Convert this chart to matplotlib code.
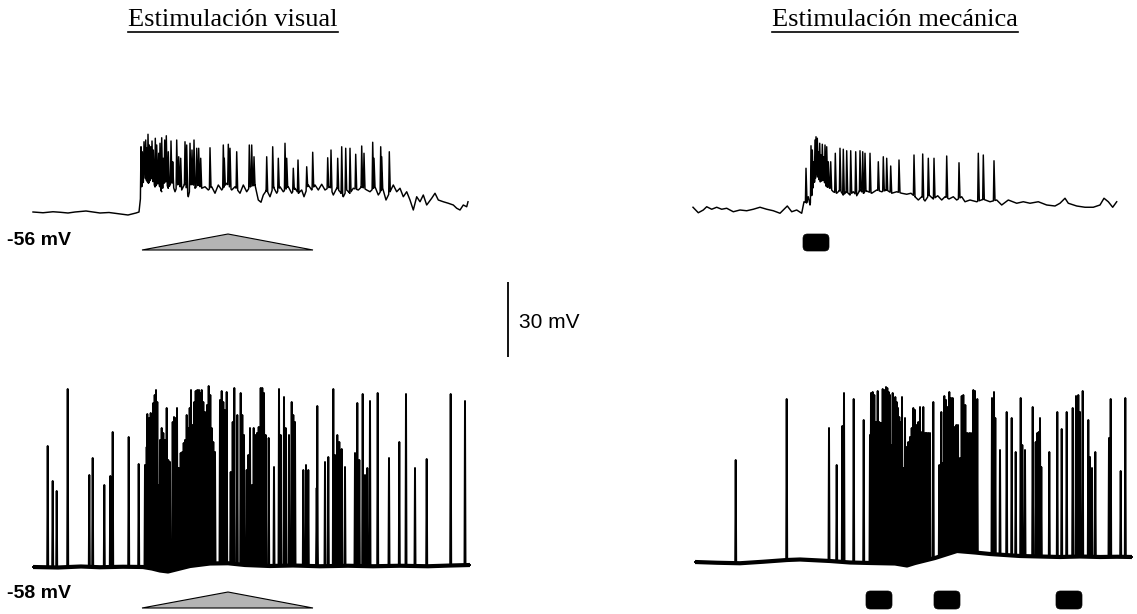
import numpy as np
import matplotlib
matplotlib.use("Agg")
import matplotlib.pyplot as plt
from matplotlib.patches import Polygon, FancyBboxPatch
from matplotlib.lines import Line2D

# ------------------------------------------------------------------
# Recordings (time in s, membrane potential in mV)
# ------------------------------------------------------------------
titles = ["Estimulación visual", "Estimulación mecánica"]
rest_labels = ["-56 mV", "-58 mV"]
scale_mv = 30
scale_label = "30 mV"

# Cell 1, visual stimulus: membrane baseline and spike peaks
vis1_base_t = [0.0, 1.0, 2.0, 2.7, 3.5, 4.2, 5.3, 6.7, 7.6, 8.7, 9.5, 10.3, 10.6,
               10.87, 11.2, 11.53, 11.87, 12.2, 12.53, 12.87, 13.2, 13.53, 13.87,
               14.2, 14.53, 14.87, 15.2, 15.53, 15.87, 16.2, 16.53, 16.87, 17.2,
               17.53, 17.87, 18.2, 18.53, 18.87, 19.37, 19.87, 20.2, 20.7, 21.03,
               21.37, 21.7, 22.2, 22.53, 22.8, 23.03, 23.37, 23.7, 24.03, 24.37,
               24.7, 25.03, 25.53, 25.87, 26.2, 26.53, 26.87, 27.1, 27.53, 27.87,
               28.2, 28.53, 28.87, 29.2, 29.7, 30.03, 30.37, 30.7, 31.03, 31.37,
               31.7, 32.03, 32.53, 32.87, 33.37, 33.7, 34.2, 34.53, 34.97, 35.3,
               35.7, 36.03, 36.37, 36.7, 37.03, 37.37, 37.7, 38.03, 38.37, 38.7,
               39.03, 39.37, 39.87, 40.2, 40.53, 41.03, 41.53, 42.03, 42.37, 42.7,
               43.03, 43.37, 43.5]
vis1_base_mv = [-56.0, -56.3, -55.9, -56.1, -56.4, -56.0, -55.6, -56.4, -56.2, -56.8,
                -57.2, -56.4, -56.0,
                -45.9, -42.4, -44.5, -42.5, -45.9, -44.5, -47.9, -43.2, -46.5, -43.9,
                -47.9, -44.5, -47.2, -44.5, -49.9, -43.9, -46.5, -45.2, -46.5, -45.9,
                -47.2, -45.9, -48.5, -45.2, -47.2, -44.5, -47.2, -45.9, -48.5, -45.2,
                -47.9, -45.9, -45.2, -51.2, -52.1, -49.2, -47.2, -49.9, -45.9, -48.5,
                -45.9, -47.9, -45.9, -48.5, -46.5, -48.5, -47.2, -49.9, -45.2, -47.2,
                -45.2, -47.2, -44.9, -47.2, -45.9, -49.2, -46.5, -47.9, -49.9, -47.2,
                -48.5, -46.5, -47.2, -45.9, -47.2, -47.9, -45.9, -49.2, -46.5, -51.2,
                -47.9, -45.2, -47.9, -46.5, -49.9, -47.9, -51.2, -55.2, -49.9, -51.9,
                -49.2, -53.2, -50.5, -48.5, -51.2, -51.9, -52.5, -53.2, -54.5, -55.2,
                -53.2, -53.9, -51.9]
vis1_spk_t = [10.8, 10.93, 11.1, 11.27, 11.37, 11.5, 11.63, 11.77, 11.9, 12.03,
              12.23, 12.37, 12.57, 12.7, 12.87, 13.03, 13.17, 13.33, 13.53, 13.8,
              13.97, 14.37, 14.57, 14.77, 15.2, 15.37, 15.7, 15.9, 16.1, 16.37,
              16.57, 16.77, 17.7, 19.03, 19.13, 19.53, 19.7, 20.37, 21.63, 21.87,
              22.1, 23.37, 23.97, 24.53, 25.2, 25.37, 26.03, 26.5, 27.37, 27.97,
              29.47, 29.8, 30.47, 30.87, 31.27, 31.7, 32.27, 32.87, 33.1, 33.97,
              34.1, 34.77, 34.87, 35.63]
vis1_spk_mv = [-29.9, -31.9, -27.9, -27.2, -30.4, -24.9, -29.2, -29.9, -27.6, -31.2,
               -26.5, -29.2, -32.5, -28.5, -26.3, -34.5, -27.2, -25.5, -31.9, -27.6,
               -35.9, -27.2, -33.9, -34.5, -27.9, -29.2, -28.5, -31.2, -27.2, -30.5,
               -30.5, -34.5, -30.3, -29.2, -34.5, -28.9, -30.5, -31.9, -29.2, -29.2,
               -33.9, -33.9, -29.9, -34.5, -28.5, -34.5, -38.5, -35.2, -37.9, -32.1,
               -34.3, -31.2, -34.5, -29.9, -30.5, -30.5, -32.9, -29.6, -32.5, -28.1,
               -34.5, -29.9, -33.9, -31.9]
vis1_stim = [10.9, 19.5, 28.0]          # ramp onset, peak, offset (s)

# Cell 1, mechanical stimulus
mec1_base_t = [0.0, 0.53, 1.03, 1.37, 1.87, 2.37, 2.87, 3.37, 4.03, 4.7, 5.37, 6.03,
               6.7, 7.37, 8.03, 8.7, 9.43, 9.87, 10.37, 10.87, 11.1, 11.35, 11.53,
               11.7, 12.03, 12.37, 12.7, 13.03, 13.37, 13.7, 14.03, 14.37, 14.7,
               15.03, 15.37, 15.7, 16.03, 16.37, 16.7, 17.03, 17.37, 17.87, 18.37,
               18.87, 19.37, 19.87, 20.37, 20.87, 21.37, 21.8, 22.2, 22.53, 22.87,
               23.2, 23.6, 24.03, 24.47, 24.87, 25.2, 25.6, 26.03, 26.37, 26.87,
               27.2, 27.7, 28.37, 29.03, 29.7, 30.37, 30.87, 31.53, 32.37, 33.03,
               33.7, 34.53, 35.37, 36.2, 36.7, 37.2, 37.53, 38.37, 39.2, 40.03,
               40.7, 41.1, 41.53, 41.97, 42.37]
mec1_base_mv = [-55.3, -57.5, -56.4, -55.1, -56.1, -55.3, -56.1, -55.7, -57.1, -56.4,
                -56.7, -56.1, -55.3, -56.1, -56.7, -57.7, -54.8, -57.1, -56.4, -57.7,
                -53.1, -53.6, -51.1, -54.4, -47.1, -41.7, -45.1, -44.4, -47.1, -47.7,
                -49.1, -49.7, -48.4, -50.4, -49.1, -50.4, -49.1, -50.7, -48.4, -49.7,
                -48.8, -49.7, -48.4, -49.1, -48.4, -49.7, -49.1, -49.7, -50.1, -49.7,
                -51.1, -52.4, -51.1, -52.8, -50.4, -52.0, -50.7, -52.4, -51.1, -52.0,
                -51.1, -52.4, -51.1, -53.1, -52.4, -53.1, -52.1, -53.1, -52.4, -54.4,
                -52.4, -53.7, -53.1, -53.7, -53.1, -54.4, -54.8, -53.7, -51.7, -53.7,
                -54.8, -55.3, -55.3, -54.4, -51.7, -53.1, -55.3, -53.1]
mec1_spk_t = [11.3, 11.8, 11.93, 12.07, 12.2, 12.3, 12.43, 12.53, 12.67, 12.8,
              12.93, 13.07, 13.2, 13.37, 13.53, 13.77, 14.23, 14.7, 15.03, 15.37,
              15.77, 16.27, 16.7, 16.97, 17.2, 17.7, 18.53, 19.03, 19.37, 19.77,
              20.6, 22.1, 22.97, 23.53, 24.1, 25.37, 26.6, 28.53, 29.03, 30.1]
mec1_spk_mv = [-39.7, -30.7, -32.4, -37.1, -28.4, -27.1, -27.7, -33.1, -29.7, -34.4,
               -30.1, -35.1, -30.4, -31.1, -37.1, -37.1, -33.7, -31.7, -32.1, -32.7,
               -32.7, -33.1, -32.7, -33.1, -33.7, -33.7, -37.1, -35.1, -35.7, -38.8,
               -36.4, -34.4, -34.0, -35.7, -35.7, -34.8, -37.5, -33.7, -34.4, -36.7]
mec1_stim_on = [11.0]                   # puff onsets (s)
mec1_stim_dur = [2.6]                   # puff durations (s)

# Cell 2, visual stimulus
vis2_base_t = [0.0, 2.5, 4.8, 6.7, 9.0, 11.0, 11.9, 12.7, 13.5, 14.3, 15.7, 17.7,
               19.5, 21.2, 23.7, 26.0, 28.7, 31.5, 34.0, 36.7, 39.5, 41.8, 43.7]
vis2_base_mv = [-58.0, -58.2, -57.8, -58.1, -57.9, -58.0, -58.6, -59.4, -59.8, -59.0,
                -57.6, -56.6, -56.5, -57.2, -57.6, -57.4, -57.7, -57.5, -57.7, -57.5,
                -57.7, -57.4, -57.2]
vis2_spk_t = [1.47, 1.97, 2.37, 3.47, 5.63, 5.97, 7.13, 7.73, 7.97, 9.57, 10.57,
              11.2, 11.37, 11.43, 11.63, 11.77, 11.9, 12.03, 12.17, 12.3, 12.43,
              12.57, 12.7, 12.87, 13.03, 13.2, 13.37, 13.53, 13.7, 13.97, 14.1,
              14.27, 14.4, 14.57, 14.77, 14.93, 15.07, 15.2, 15.37, 15.53, 15.67,
              15.8, 15.97, 16.13, 16.27, 16.43, 16.6, 16.73, 16.87, 17.03, 17.2,
              17.4, 17.57, 17.73, 17.87, 18.03, 18.2, 18.7, 18.87, 19.03, 19.17,
              19.37, 19.77, 19.97, 20.13, 20.43, 20.77, 20.93, 21.1, 21.37, 21.53,
              21.7, 21.9, 22.07, 22.23, 22.4, 22.57, 22.77, 22.93, 23.1, 23.27,
              23.57, 24.1, 24.6, 24.77, 25.1, 25.27, 25.6, 25.87, 26.03, 26.2,
              27.03, 27.3, 27.53, 28.37, 28.43, 29.2, 29.53, 30.03, 30.2, 30.43,
              30.63, 30.87, 31.2, 32.2, 32.43, 32.63, 32.97, 33.2, 33.43, 33.7,
              34.47, 35.6, 36.63, 37.3, 38.2, 39.37, 41.77, 43.2]
vis2_spk_mv = [-9.6, -23.6, -27.6, 13.2, -21.2, -14.4, -25.2, -21.6, -4.0, -6.0, -16.8,
               -17.2, -10.0, 3.2, 1.6, 3.6, 0.0, 7.6, 10.8, 12.8, 8.0,
               -25.2, -7.2, -2.4, -4.4, -7.2, 5.6, -15.2, -16.0, 0.0, 2.0,
               1.6, 5.6, -18.4, -12.4, -12.0, -8.4, -7.2, 2.8, -2.4, 5.6,
               12.8, -1.2, 8.0, 12.4, 12.8, 12.8, 11.6, 12.8, 8.0, 4.0,
               6.8, 14.4, 10.8, -2.4, -8.0, -12.0, 8.8, 12.4, 8.0, 4.8,
               12.0, -20.0, 0.0, 13.6, 2.8, 11.6, 2.8, -5.2, -19.2, -13.2,
               -2.4, -25.2, -2.4, -5.2, -4.4, -2.0, 13.6, 13.6, 11.6, -5.2,
               -6.4, -18.0, 13.2, -5.2, 10.0, -2.4, -5.2, 8.0, 2.8, 0.0,
               -19.2, -17.2, -19.2, -26.4, 6.4, -16.0, -14.0, 13.2, -13.2, -5.2,
               -8.0, -10.8, -18.0, -12.4, 7.6, -15.2, 11.2, -21.2, -18.4, 8.4,
               11.6, -14.4, -8.0, 11.2, -18.4, -14.8, 11.2, 8.4]
vis2_stim = [10.9, 19.5, 28.0]

# Cell 2, mechanical stimulus
mec2_base_t = [0.0, 2.2, 4.5, 6.8, 9.2, 10.5, 13.5, 15.5, 17.5, 20.0, 21.2, 22.0,
               24.0, 26.2, 28.0, 29.5, 32.5, 34.5, 36.5, 38.5, 40.5, 42.2, 43.7]
mec2_base_mv = [-58.0, -58.3, -58.5, -57.9, -57.2, -57.0, -57.6, -58.2, -58.4, -58.6,
                -59.4, -58.4, -56.4, -53.6, -54.2, -54.8, -55.6, -55.8, -56.0, -55.8,
                -56.0, -55.9, -56.0]
mec2_spk_t = [4.07, 9.17, 13.4, 14.17, 14.73, 14.9, 15.87, 16.87, 17.5, 17.6, 17.77,
              17.93, 18.1, 18.27, 18.43, 18.6, 18.77, 18.93, 19.1, 19.23, 19.37,
              19.5, 19.63, 19.77, 19.9, 20.03, 20.17, 20.3, 20.43, 20.57, 20.7,
              20.83, 21.0, 21.17, 21.33, 21.5, 21.67, 21.83, 22.0, 22.17, 22.33,
              22.5, 22.7, 22.83, 23.03, 23.17, 23.33, 23.5, 23.83, 24.43, 24.63,
              24.77, 24.93, 25.1, 25.27, 25.43, 25.6, 25.77, 25.97, 26.13, 26.3,
              26.5, 26.67, 26.83, 27.03, 27.23, 27.43, 27.6, 27.83, 28.0, 28.23,
              29.7, 29.9, 30.03, 30.5, 31.17, 31.67, 32.07, 32.57, 32.73, 33.0,
              33.77, 34.07, 34.23, 34.37, 34.5, 34.63, 35.43, 36.23, 36.67, 37.17,
              37.77, 38.1, 38.33, 38.5, 38.77, 39.33, 39.5, 39.7, 40.03, 41.4,
              41.57, 42.57, 43.03]
mec2_spk_mv = [-17.2, 7.2, -4.4, -19.2, -3.6, 9.6, 7.2, -1.2, -7.2, 9.6, 10.0,
               8.8, -2.0, 10.4, -2.0, -2.4, 11.2, 10.8, 12.0, 11.6, 10.0,
               8.8, -11.2, 9.6, 7.6, 8.0, 6.0, 3.6, 0.0, -2.0, 8.0,
               -20.4, -0.4, -12.0, -10.0, -8.0, -4.4, 3.6, 2.8, -3.2, -2.0,
               4.0, -6.0, 4.0, -6.4, -6.4, -6.4, -6.4, 6.0, -19.2, 2.0,
               -18.4, 8.4, 6.8, 4.0, 10.0, 7.6, 7.6, -4.0, -3.2, -3.2,
               -16.4, 8.4, 8.8, 4.8, -6.4, -6.4, -6.4, 10.8, 10.4, 7.2,
               7.6, 10.0, -0.4, -13.2, 2.0, -0.4, -14.0, 7.6, -11.2, -13.2,
               4.0, -10.0, -6.4, -6.0, -0.4, -20.0, -14.0, 2.0, -4.8, 2.0,
               3.6, 8.4, 8.8, 2.0, 10.4, -1.2, -16.0, -20.4, -14.0, -8.4,
               7.2, -21.6, 7.6]
mec2_stim_on = [17.1, 23.9, 36.1]
mec2_stim_dur = [2.6, 2.6, 2.6]

# ------------------------------------------------------------------
# Figure layout
# ------------------------------------------------------------------
W, H = 1137, 614
fig = plt.figure(figsize=(W / 100, H / 100), dpi=100)
fig.patch.set_facecolor("white")

PX_PER_S = 10.0      # horizontal scale
PX_PER_MV = 2.5      # vertical scale (30 mV = 75 px)


def panel(x0, x1, y_top, y_bot, mv_at_bot):
    """Axes placed in pixel units with a fixed time/voltage scale."""
    ax = fig.add_axes([x0 / W, 1 - y_bot / H, (x1 - x0) / W, (y_bot - y_top) / H])
    ax.set_xlim(0, (x1 - x0) / PX_PER_S)
    ax.set_ylim(mv_at_bot, mv_at_bot + (y_bot - y_top) / PX_PER_MV)
    ax.axis("off")
    return ax


def trace(base_t, base_v, spk_t, spk_v, rise, fall):
    bt = np.asarray(base_t, float)
    bv = np.asarray(base_v, float)
    st = np.asarray(spk_t, float)
    sv = np.asarray(spk_v, float)
    t = np.concatenate([bt, st - rise, st, st + fall])
    v = np.concatenate([bv, np.interp(st - rise, bt, bv), sv,
                        np.interp(st + fall, bt, bv)])
    key = np.concatenate([bt, st, st, st])
    sub = np.concatenate([np.zeros(bt.size), np.zeros(st.size),
                          np.ones(st.size), 2 * np.ones(st.size)])
    order = np.lexsort((sub, key))
    return t[order], v[order]


def ramp(ax, stim, v_base, v_top):
    on, peak, off = stim
    ax.add_patch(Polygon([(on, v_base), (peak, v_top), (off, v_base)],
                         closed=True, facecolor="#b4b4b4", edgecolor="black",
                         linewidth=0.8, clip_on=False))


def puffs(ax, onsets, durs, v_lo, v_hi):
    for on, d in zip(onsets, durs):
        ax.add_patch(FancyBboxPatch((on, v_lo), d, v_hi - v_lo,
                                    boxstyle="round,pad=0,rounding_size=0.45",
                                    mutation_aspect=PX_PER_S / PX_PER_MV,
                                    facecolor="black", edgecolor="black",
                                    linewidth=0.5, clip_on=False))


# top-left: cell 1, visual
ax1 = panel(33, 468, 120, 255, -73.2)
t, v = trace(vis1_base_t, vis1_base_mv, vis1_spk_t, vis1_spk_mv, 0.06, 0.1)
ax1.plot(t, v, color="black", lw=1.05, clip_on=False)
ramp(ax1, vis1_stim, -71.2, -64.8)

# top-right: cell 1, mechanical
ax2 = panel(693, 1117, 120, 255, -74.4)
t, v = trace(mec1_base_t, mec1_base_mv, mec1_spk_t, mec1_spk_mv, 0.06, 0.1)
ax2.plot(t, v, color="black", lw=1.05, clip_on=False)
puffs(ax2, mec1_stim_on, mec1_stim_dur, -72.8, -66.0)

# bottom-left: cell 2, visual
ax3 = panel(33, 470, 375, 612, -76.0)
ax3.plot(vis2_base_t, vis2_base_mv, color="black", lw=3.0, solid_capstyle="butt")
t, v = trace(vis2_base_t, vis2_base_mv, vis2_spk_t, vis2_spk_mv, 0.05, 0.05)
ax3.plot(t, v, color="black", lw=1.4, clip_on=False)
ramp(ax3, vis2_stim, -74.4, -68.0)

# bottom-right: cell 2, mechanical
ax4 = panel(695, 1132, 375, 612, -78.0)
ax4.plot(mec2_base_t, mec2_base_mv, color="black", lw=3.0, solid_capstyle="butt")
t, v = trace(mec2_base_t, mec2_base_mv, mec2_spk_t, mec2_spk_mv, 0.05, 0.05)
ax4.plot(t, v, color="black", lw=1.4, clip_on=False)
puffs(ax4, mec2_stim_on, mec2_stim_dur, -76.8, -69.6)

# voltage scale bar
axs = panel(500, 600, 270, 370, -5.2)
axs.plot([0.8, 0.8], [0, scale_mv], color="black", lw=1.3, solid_capstyle="butt")
fig.text(519 / W, 1 - 323 / H, scale_label, fontsize=15, family="Liberation Sans",
         ha="left", va="center")

# resting potential labels
fig.text(7 / W, 1 - 241 / H, rest_labels[0], fontsize=14, fontweight="bold",
         family="Liberation Sans", ha="left", va="center")
fig.text(7 / W, 1 - 594 / H, rest_labels[1], fontsize=14, fontweight="bold",
         family="Liberation Sans", ha="left", va="center")

# underlined column headings
heads = []
for cx, txt in zip([233, 895], titles):
    heads.append(fig.text(cx / W, 1 - 20 / H, txt, fontsize=19,
                          family="Liberation Serif", ha="center", va="center"))
fig.canvas.draw()
renderer = fig.canvas.get_renderer()
for h in heads:
    bb = h.get_window_extent(renderer)
    y = 1 - 32 / H
    fig.add_artist(Line2D([bb.x0 / W, bb.x1 / W], [y, y], transform=fig.transFigure,
                          color="black", lw=1.2))

fig.savefig("out.png", dpi=100, facecolor="white")
